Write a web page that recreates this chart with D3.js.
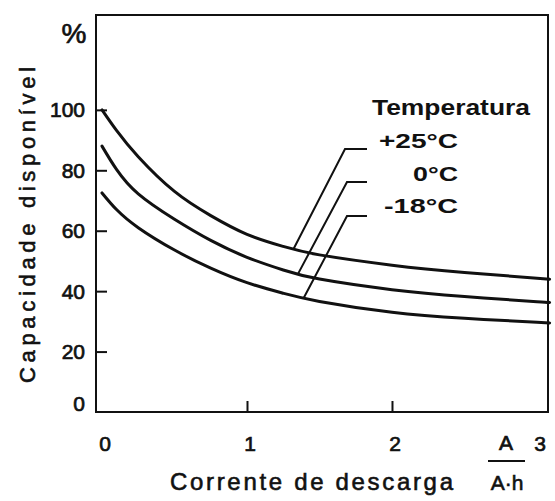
<!DOCTYPE html>
<html><head><meta charset="utf-8">
<script src="https://cdn.jsdelivr.net/npm/d3@7/dist/d3.min.js"></script>
<style>
body{margin:0;background:#fff}
svg{display:block}
text{font-family:"Liberation Sans",Arial,Helvetica,sans-serif;fill:#111}
</style>
</head><body>
<svg id="chart" width="555" height="501"></svg>
<script>
// ---- data ----
const current    = [0, 0.1, 0.25, 0.5, 0.75, 1, 1.25, 1.5, 2, 2.5, 3, 3.08];          // A / A·h
const capPlus25  = [100, 93.2, 84.5, 73, 65, 58.8, 54.8, 52, 48.6, 46.2, 44.3, 44];   // %
const capZero    = [88, 80.3, 72.2, 63.8, 56.8, 51.2, 47, 44, 40.5, 38.2, 36.5, 36.3];
const capMinus18 = [72.5, 67, 61, 53.6, 47.6, 42.8, 39.3, 36.6, 33, 31, 29.7, 29.5];
const seriesNames = ["+25°C", "0°C", "-18°C"];
const leaderAt = [1.32, 1.35, 1.39];           // x value where each leader touches its curve
const yTickValues = [0, 20, 40, 60, 80, 100];
const xTickValues = [0, 1, 2, 3];
const yTitle = "Capacidade disponível";
const xTitle = "Corrente de descarga";
const legendTitle = "Temperatura";

const series = [capPlus25, capZero, capMinus18];

// ---- layout ----
const svg = d3.select("#chart");
const L = 96, R = 548, T = 15, B = 412;
const x = d3.scaleLinear().domain([-0.0414, 3.076]).range([L, R]);
const y = d3.scaleLinear().domain([0, 131.4]).range([B, T]);
const ink = "#111";

// frame
svg.append("rect").attr("x", L).attr("y", T).attr("width", R - L).attr("height", B - T)
  .attr("fill", "none").attr("stroke", ink).attr("stroke-width", 2);

// y axis ticks (inward) + labels
const yAxis = d3.axisRight(y).tickValues(yTickValues.filter(d => d > 0)).tickSize(11).tickFormat("");
svg.append("g").attr("transform", `translate(${L},0)`).call(yAxis)
  .call(g => g.select(".domain").remove())
  .call(g => g.selectAll("line").attr("stroke", ink).attr("stroke-width", 2));
svg.append("g").selectAll("text").data(yTickValues).join("text")
  .attr("x", 85).attr("y", d => y(d) - (d === 0 ? 9 : 0)).attr("dy", "0.36em")
  .attr("text-anchor", "end").attr("font-size", 21)
  .attr("stroke", ink).attr("stroke-width", 0.7)
  .text(d => d);

// x axis ticks (inward) + labels
const xAxis = d3.axisTop(x).tickValues([1, 2]).tickSize(11).tickFormat("");
svg.append("g").attr("transform", `translate(0,${B})`).call(xAxis)
  .call(g => g.select(".domain").remove())
  .call(g => g.selectAll("line").attr("stroke", ink).attr("stroke-width", 2));
svg.append("g").selectAll("text").data(xTickValues).join("text")
  .attr("x", d => x(d) + 3).attr("y", 451)
  .attr("text-anchor", "middle").attr("font-size", 21)
  .attr("stroke", ink).attr("stroke-width", 0.7)
  .text(d => d);

// percent sign
svg.append("text").attr("x", 74).attr("y", 43).attr("text-anchor", "middle")
  .attr("font-size", 28).attr("stroke", ink).attr("stroke-width", 0.7).text("%");

// y title
svg.append("text").attr("transform", "translate(35,225) rotate(-90)")
  .attr("text-anchor", "middle").attr("font-size", 22)
  .attr("textLength", 316).attr("lengthAdjust", "spacing")
  .attr("stroke", ink).attr("stroke-width", 0.6)
  .text(yTitle);

// x title
svg.append("text").attr("x", 170).attr("y", 490).attr("font-size", 24)
  .attr("textLength", 283).attr("lengthAdjust", "spacing")
  .attr("stroke", ink).attr("stroke-width", 0.6)
  .text(xTitle);

// unit fraction A / A·h
svg.append("text").attr("x", 506).attr("y", 450).attr("text-anchor", "middle")
  .attr("font-size", 21).attr("stroke", ink).attr("stroke-width", 0.7).text("A");
svg.append("line").attr("x1", 488).attr("x2", 525).attr("y1", 461).attr("y2", 461)
  .attr("stroke", ink).attr("stroke-width", 2);
svg.append("text").attr("x", 507).attr("y", 490).attr("text-anchor", "middle")
  .attr("font-size", 21).attr("stroke", ink).attr("stroke-width", 0.6).text("A·h");

// curves
const line = d3.line().x((d, i) => x(current[i])).y(d => y(d)).curve(d3.curveNatural);
const paths = svg.append("g").selectAll("path").data(series).join("path")
  .attr("d", line).attr("fill", "none").attr("stroke", ink).attr("stroke-width", 3)
  .attr("stroke-linecap", "round");

function yOnPath(node, px) {
  const len = node.getTotalLength();
  let lo = 0, hi = len;
  for (let k = 0; k < 40; k++) {
    const mid = (lo + hi) / 2;
    if (node.getPointAtLength(mid).x < px) lo = mid; else hi = mid;
  }
  return node.getPointAtLength((lo + hi) / 2).y;
}

// legend
svg.append("text").attr("x", 372).attr("y", 115).attr("font-size", 22).attr("font-weight", "bold")
  .attr("textLength", 158).attr("lengthAdjust", "spacingAndGlyphs").text(legendTitle);

const labelWidths = [79, 45, 74];
const rowBase = [148, 181, 213];
const leaderY = [149, 182, 216];
paths.each(function (d, i) {
  svg.append("text").attr("x", 458 - labelWidths[i]).attr("y", rowBase[i])
    .attr("font-size", 21).attr("font-weight", "bold")
    .attr("textLength", labelWidths[i]).attr("lengthAdjust", "spacingAndGlyphs")
    .text(seriesNames[i]);
  const ex = x(leaderAt[i]);
  const ey = yOnPath(this, ex);
  const elbowX = 345 + (i > 0 ? 2 : 0);
  svg.append("polyline")
    .attr("points", `${367},${leaderY[i]} ${elbowX},${leaderY[i]} ${ex},${ey}`)
    .attr("fill", "none").attr("stroke", ink).attr("stroke-width", 2);
});
</script>
</body></html>
